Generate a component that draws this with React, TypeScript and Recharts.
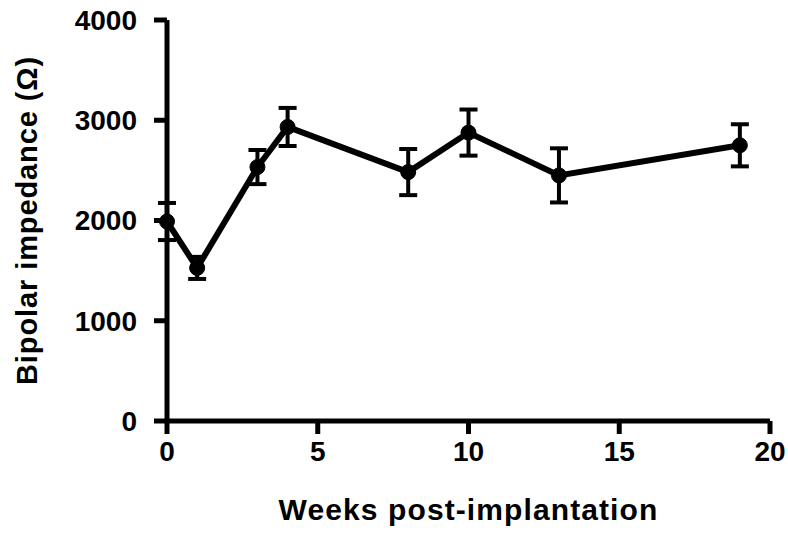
import React from 'react';
import { LineChart, Line, XAxis, YAxis, ErrorBar } from 'recharts';

// weeks after implantation
const weeks = [0, 1, 3, 4, 8, 10, 13, 19];
// mean bipolar impedance (ohm)
const impedance = [1990, 1527, 2533, 2933, 2483, 2877, 2450, 2750];
// error bar half-height
const sem = [185, 110, 170, 190, 230, 230, 270, 210];

const xTicks = [0, 5, 10, 15, 20];
const yTicks = [0, 1000, 2000, 3000, 4000];

const data = weeks.map((w, i) => ({ week: w, value: impedance[i], err: sem[i] }));

const FONT = 'Liberation Sans, Arial, Helvetica, sans-serif';

export default function App() {
  return (
    <div style={{ position: 'absolute', left: 0, top: 0, width: 788, height: 533, background: '#fff' }}>
      <LineChart width={788} height={533} data={data} margin={{ top: 20, right: 18, left: 0, bottom: 0 }}>
        <XAxis
          dataKey="week"
          type="number"
          domain={[0, 20]}
          ticks={xTicks}
          height={112}
          axisLine={{ stroke: '#000', strokeWidth: 5 }}
          tickLine={{ stroke: '#000', strokeWidth: 5 }}
          tickSize={13}
          tickMargin={7}
          tick={{ fill: '#000', fontSize: 28, fontWeight: 'bold', fontFamily: FONT }}
          label={{
            value: 'Weeks post-implantation',
            position: 'insideBottom',
            offset: 13,
            style: { fill: '#000', fontSize: 30, fontWeight: 'bold', fontFamily: FONT, letterSpacing: 1.1 },
          }}
        />
        <YAxis
          type="number"
          domain={[0, 4000]}
          ticks={yTicks}
          width={167}
          interval={0}
          axisLine={{ stroke: '#000', strokeWidth: 5 }}
          tickLine={{ stroke: '#000', strokeWidth: 5 }}
          tickSize={13}
          tickMargin={17}
          tick={{ fill: '#000', fontSize: 28, fontWeight: 'bold', fontFamily: FONT }}
          label={{
            value: 'Bipolar impedance (Ω)',
            angle: -90,
            position: 'insideLeft',
            offset: 27,
            style: { textAnchor: 'middle', fill: '#000', fontSize: 29, fontWeight: 'bold', fontFamily: FONT, letterSpacing: 0.9 },
          }}
        />
        <Line
          dataKey="value"
          stroke="#000"
          strokeWidth={6}
          type="linear"
          dot={{ r: 7.5, fill: '#000', stroke: '#000', strokeWidth: 1 }}
          isAnimationActive={false}
        >
          <ErrorBar dataKey="err" width={9} strokeWidth={4} stroke="#000" direction="y" />
        </Line>
      </LineChart>
    </div>
  );
}
